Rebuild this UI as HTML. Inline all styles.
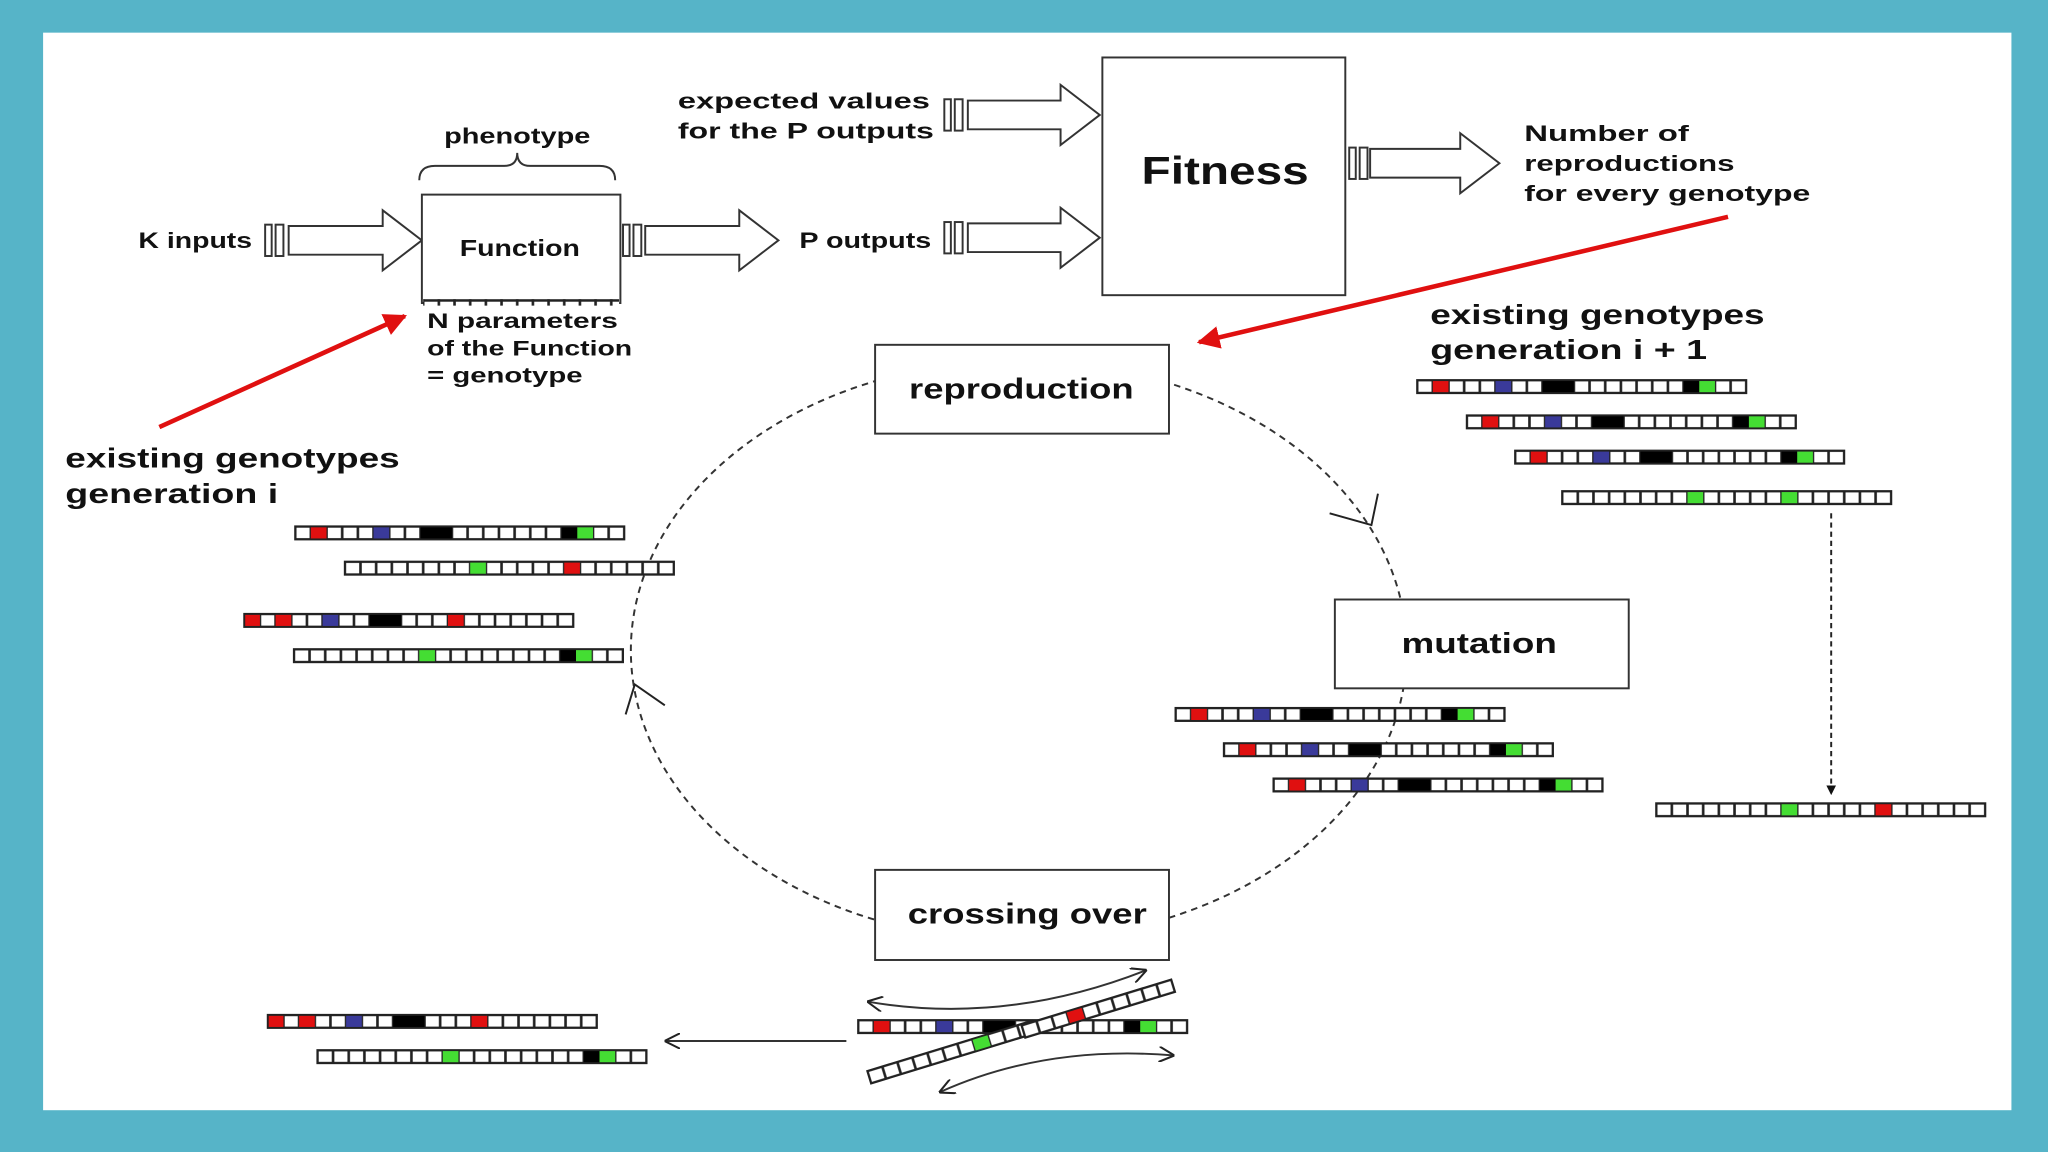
<!DOCTYPE html>
<html><head><meta charset="utf-8"><style>
html,body{margin:0;padding:0;background:#56b4c8}
svg{display:block}
text{font-family:"Liberation Sans",Arial,sans-serif;font-weight:bold;fill:#111}
</style></head><body>
<svg width="2048" height="1152" viewBox="0 0 1568 882" xmlns="http://www.w3.org/2000/svg">
<defs>
<pattern id="cells" width="12" height="10" patternUnits="userSpaceOnUse">
<rect x="0" y="0" width="12" height="10" fill="#fff" stroke="#222" stroke-width="2"/>
</pattern>
<g id="bA"><rect width="252" height="10" fill="url(#cells)"/>
<rect x="12" width="12" height="10" fill="#e01010"/><rect x="60" width="12" height="10" fill="#3a3a9a"/>
<rect x="96" width="24" height="10" fill="#000"/><rect x="204" width="12" height="10" fill="#000"/>
<rect x="216" width="12" height="10" fill="#44dd33"/><rect width="252" height="10" fill="none" stroke="#222" stroke-width="1.5"/></g>
<g id="bB"><rect width="252" height="10" fill="url(#cells)"/>
<rect x="96" width="12" height="10" fill="#44dd33"/><rect x="168" width="12" height="10" fill="#e01010"/>
<rect width="252" height="10" fill="none" stroke="#222" stroke-width="1.5"/></g>
<g id="bC"><rect width="252" height="10" fill="url(#cells)"/>
<rect x="0" width="12" height="10" fill="#e01010"/><rect x="24" width="12" height="10" fill="#e01010"/>
<rect x="60" width="12" height="10" fill="#3a3a9a"/><rect x="96" width="24" height="10" fill="#000"/>
<rect x="156" width="12" height="10" fill="#e01010"/><rect width="252" height="10" fill="none" stroke="#222" stroke-width="1.5"/></g>
<g id="bD"><rect width="252" height="10" fill="url(#cells)"/>
<rect x="96" width="12" height="10" fill="#44dd33"/><rect x="204" width="12" height="10" fill="#000"/>
<rect x="216" width="12" height="10" fill="#44dd33"/><rect width="252" height="10" fill="none" stroke="#222" stroke-width="1.5"/></g>
<g id="bE"><rect width="252" height="10" fill="url(#cells)"/>
<rect x="96" width="12" height="10" fill="#44dd33"/><rect x="168" width="12" height="10" fill="#44dd33"/>
<rect width="252" height="10" fill="none" stroke="#222" stroke-width="1.5"/></g>
<marker id="op" viewBox="0 0 10 10" refX="9" refY="5" markerWidth="8" markerHeight="8" orient="auto-start-reverse"><path d="M0,0 L10,5 L0,10" fill="none" stroke="#222" stroke-width="1.3"/></marker>
<marker id="fi" viewBox="0 0 10 10" refX="9" refY="5" markerWidth="5" markerHeight="5" orient="auto"><path d="M0,0 L10,5 L0,10 Z" fill="#111"/></marker>
<marker id="rd" viewBox="0 0 10 10" refX="9" refY="5" markerWidth="5" markerHeight="5" orient="auto"><path d="M0,0 L10,5 L0,10 Z" fill="#e01010"/></marker>
</defs>
<rect width="1568" height="882" fill="#56b4c8"/>
<rect x="33" y="25" width="1507" height="825" fill="#fff"/>

<ellipse cx="780" cy="498" rx="297" ry="222" fill="none" stroke="#333" stroke-width="1.5" stroke-dasharray="5,4"/>
<path d="M1018,393 L1050,402 L1055,378" fill="none" stroke="#222" stroke-width="1.5"/>
<path d="M509,540 L486,524 L479,547" fill="none" stroke="#222" stroke-width="1.5"/>

<g fill="#fff" stroke="#333" stroke-width="1.5">
<rect x="203" y="172" width="5" height="24"/><rect x="211" y="172" width="6" height="24"/>
<path d="M221,173 L293,173 L293,161 L323,184 L293,207 L293,195 L221,195 Z"/>
<rect x="477" y="172" width="5" height="24"/><rect x="485" y="172" width="6" height="24"/>
<path d="M494,173 L566,173 L566,161 L596,184 L566,207 L566,195 L494,195 Z"/>
<rect x="723" y="76" width="5" height="24"/><rect x="731" y="76" width="6" height="24"/>
<path d="M741,77 L812,77 L812,65 L842,88 L812,111 L812,99 L741,99 Z"/>
<rect x="723" y="170" width="5" height="24"/><rect x="731" y="170" width="6" height="24"/>
<path d="M741,171 L812,171 L812,159 L842,182 L812,205 L812,193 L741,193 Z"/>
<rect x="1033" y="113" width="5" height="24"/><rect x="1041" y="113" width="6" height="24"/>
<path d="M1049,114 L1118,114 L1118,102 L1148,125 L1118,148 L1118,136 L1049,136 Z"/>
</g>

<rect x="323" y="149" width="152" height="83" fill="#fff" stroke="#333" stroke-width="1.5"/>
<rect x="324" y="229" width="150" height="5" fill="url(#cells)"/>
<path d="M321,138 Q321,127 333,127 L386,127 Q396,127 396,117 Q396,127 406,127 L459,127 Q471,127 471,138" fill="none" stroke="#333" stroke-width="1.5"/>
<text x="340" y="110" font-size="17" textLength="112" lengthAdjust="spacingAndGlyphs">phenotype</text>
<text x="352" y="196" font-size="18" textLength="92" lengthAdjust="spacingAndGlyphs">Function</text>
<text x="106" y="190" font-size="17" textLength="87" lengthAdjust="spacingAndGlyphs">K inputs</text>
<text x="612" y="190" font-size="17" textLength="101" lengthAdjust="spacingAndGlyphs">P outputs</text>
<text x="519" y="83" font-size="17" textLength="193" lengthAdjust="spacingAndGlyphs">expected values</text>
<text x="519" y="106" font-size="17" textLength="196" lengthAdjust="spacingAndGlyphs">for the P outputs</text>
<text x="327" y="251" font-size="16" textLength="146" lengthAdjust="spacingAndGlyphs">N parameters</text>
<text x="327" y="272" font-size="16" textLength="157" lengthAdjust="spacingAndGlyphs">of the Function</text>
<text x="327" y="293" font-size="16" textLength="119" lengthAdjust="spacingAndGlyphs">= genotype</text>

<rect x="844" y="44" width="186" height="182" fill="#fff" stroke="#333" stroke-width="1.5"/>
<text x="874" y="141" font-size="30" textLength="128" lengthAdjust="spacingAndGlyphs">Fitness</text>
<text x="1167" y="108" font-size="17" textLength="126" lengthAdjust="spacingAndGlyphs">Number of</text>
<text x="1167" y="131" font-size="17" textLength="161" lengthAdjust="spacingAndGlyphs">reproductions</text>
<text x="1167" y="154" font-size="17" textLength="219" lengthAdjust="spacingAndGlyphs">for every genotype</text>

<line x1="122" y1="327" x2="310" y2="242" stroke="#e01010" stroke-width="3.5" marker-end="url(#rd)"/>
<line x1="1323" y1="166" x2="918" y2="262" stroke="#e01010" stroke-width="3.5" marker-end="url(#rd)"/>

<text x="50" y="358" font-size="21" textLength="256" lengthAdjust="spacingAndGlyphs">existing genotypes</text>
<text x="50" y="385" font-size="21" textLength="163" lengthAdjust="spacingAndGlyphs">generation i</text>
<text x="1095" y="248" font-size="21" textLength="256" lengthAdjust="spacingAndGlyphs">existing genotypes</text>
<text x="1095" y="275" font-size="21" textLength="212" lengthAdjust="spacingAndGlyphs">generation i + 1</text>

<rect x="670" y="264" width="225" height="68" fill="#fff" stroke="#333" stroke-width="1.5"/>
<text x="696" y="305" font-size="22" textLength="172" lengthAdjust="spacingAndGlyphs">reproduction</text>
<rect x="1022" y="459" width="225" height="68" fill="#fff" stroke="#333" stroke-width="1.5"/>
<text x="1073" y="500" font-size="22" textLength="119" lengthAdjust="spacingAndGlyphs">mutation</text>
<rect x="670" y="666" width="225" height="69" fill="#fff" stroke="#333" stroke-width="1.5"/>
<text x="695" y="707" font-size="22" textLength="183" lengthAdjust="spacingAndGlyphs">crossing over</text>

<use href="#bA" x="226" y="403"/>
<use href="#bB" x="264" y="430"/>
<use href="#bC" x="187" y="470"/>
<use href="#bD" x="225" y="497"/>
<use href="#bA" x="1085" y="291"/>
<use href="#bA" x="1123" y="318"/>
<use href="#bA" x="1160" y="345"/>
<use href="#bE" x="1196" y="376"/>
<line x1="1402" y1="393" x2="1402" y2="608" stroke="#222" stroke-width="1.5" stroke-dasharray="4,3" marker-end="url(#fi)"/>
<use href="#bB" x="1268" y="615"/>
<use href="#bA" x="900" y="542"/>
<use href="#bA" x="937" y="569"/>
<use href="#bA" x="975" y="596"/>
<use href="#bC" x="205" y="777"/>
<use href="#bD" x="243" y="804"/>
<line x1="648" y1="797" x2="510" y2="797" stroke="#333" stroke-width="1.5" marker-end="url(#op)"/>

<use href="#bA" x="657" y="781"/>
<g transform="translate(664,820) rotate(-17)">
<rect width="132" height="10" fill="url(#cells)"/><rect x="84" width="12" height="10" fill="#44dd33"/><rect width="132" height="10" fill="none" stroke="#222" stroke-width="1.5"/></g>
<g transform="translate(782,785) rotate(-17)">
<rect width="120" height="10" fill="url(#cells)"/><rect x="36" width="12" height="10" fill="#e01010"/><rect width="120" height="10" fill="none" stroke="#222" stroke-width="1.5"/></g>
<path d="M665,767 Q770,785 877,743" fill="none" stroke="#333" stroke-width="1.5" marker-start="url(#op)" marker-end="url(#op)"/>
<path d="M720,836 Q800,800 898,808" fill="none" stroke="#333" stroke-width="1.5" marker-start="url(#op)" marker-end="url(#op)"/>
</svg>
</body></html>
